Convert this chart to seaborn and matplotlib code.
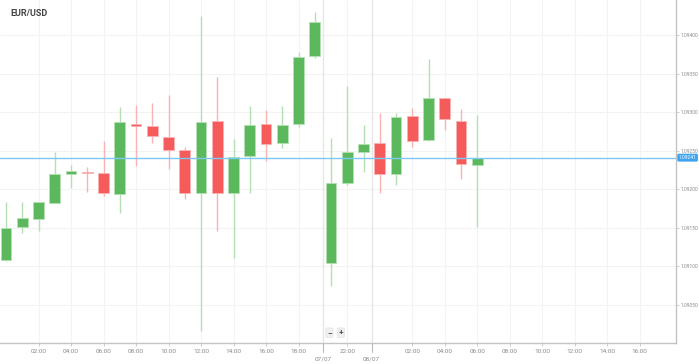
import numpy as np
import pandas as pd
import seaborn as sns
import matplotlib
matplotlib.use("Agg")
import matplotlib.pyplot as plt

sns.set_theme(style="white")
plt.rcParams["font.family"] = ["Roboto", "DejaVu Sans"]

# hourly EUR/USD candles
opens = [1.09108, 1.09151, 1.09162, 1.09182, 1.09220, 1.09222, 1.09221, 1.09194,
         1.09285, 1.09282, 1.09268, 1.09251, 1.09195, 1.09289, 1.09195, 1.09243,
         1.09285, 1.09260, 1.09285, 1.09373, 1.09104, 1.09208, 1.09248, 1.09260,
         1.09220, 1.09295, 1.09264, 1.09318, 1.09289, 1.09232]
highs = [1.09184, 1.09184, 1.09184, 1.09248, 1.09232, 1.09229, 1.09263, 1.09307,
         1.09309, 1.09312, 1.09322, 1.09255, 1.09425, 1.09346, 1.09265, 1.09308,
         1.09303, 1.09308, 1.09378, 1.09430, 1.09267, 1.09334, 1.09283, 1.09299,
         1.09299, 1.09305, 1.09369, 1.09318, 1.09304, 1.09296]
lows = [1.09107, 1.09143, 1.09146, 1.09182, 1.09202, 1.09197, 1.09191, 1.09169,
        1.09230, 1.09260, 1.09226, 1.09187, 1.09016, 1.09146, 1.09111, 1.09195,
        1.09237, 1.09254, 1.09281, 1.09370, 1.09075, 1.09206, 1.09222, 1.09195,
        1.09206, 1.09255, 1.09263, 1.09277, 1.09213, 1.09151]
closes = [1.09150, 1.09163, 1.09183, 1.09220, 1.09224, 1.09221, 1.09195, 1.09287,
          1.09282, 1.09269, 1.09251, 1.09195, 1.09287, 1.09195, 1.09242, 1.09283,
          1.09259, 1.09283, 1.09372, 1.09417, 1.09208, 1.09248, 1.09259, 1.09220,
          1.09294, 1.09263, 1.09318, 1.09291, 1.09233, 1.09241]

last_price = 1.09241
y_ticks = [1.09050, 1.09100, 1.09150, 1.09200, 1.09250, 1.09300, 1.09350, 1.09400]

time_tick_pos = [2, 4, 6, 8, 10, 12, 14, 16, 18, 21, 25, 27, 29, 31, 33, 35, 37, 39]
time_tick_labels = ["02:00", "04:00", "06:00", "08:00", "10:00", "12:00", "14:00",
                    "16:00", "18:00", "22:00", "02:00", "04:00", "06:00", "08:00",
                    "10:00", "12:00", "14:00", "16:00"]
day_tick_pos = [19.5, 22.5]
day_tick_labels = ["07/07", "08/07"]

df = pd.DataFrame({"open": opens, "high": highs, "low": lows, "close": closes})
df["x"] = np.arange(len(df))
df["up"] = df["close"] >= df["open"]

GREEN = "#5cb85c"
RED = "#f55b5b"
GREEN_W = "#b5e0b5"
RED_W = "#f9b3b3"

fig = plt.figure(figsize=(6.99, 3.64), dpi=100)
ax = fig.add_axes([0, 21 / 364, 676 / 699, 343 / 364])

# grid
for y in y_ticks:
    ax.axhline(y, color="#f3f3f3", lw=0.8, zorder=0)
for x in time_tick_pos:
    ax.axvline(x, color="#f3f3f3", lw=0.8, zorder=0)
for x in day_tick_pos:
    ax.axvline(x, color="#e6e6e6", lw=1.0, zorder=0)

# wicks and bodies
for _, r in df.iterrows():
    wc = GREEN_W if r["up"] else RED_W
    bc = GREEN if r["up"] else RED
    ax.vlines(r["x"], r["low"], r["high"], color=wc, lw=1.0, zorder=1)
    lo = min(r["open"], r["close"])
    h = max(abs(r["close"] - r["open"]), 0.000012)
    ax.bar(r["x"], h, bottom=lo, width=0.66, color=bc, edgecolor=wc,
           linewidth=0.6, zorder=2)

ax.axhline(last_price, color="#7cc8f2", lw=1.0, zorder=3)

ax.set_xlim(-0.37, 41.23)
ax.set_ylim(1.090007, 1.094454)

for s in ["left", "top"]:
    ax.spines[s].set_visible(False)
ax.spines["right"].set_color("#c4c4c4")
ax.spines["bottom"].set_color("#c4c4c4")
ax.spines["right"].set_linewidth(1.0)
ax.spines["bottom"].set_linewidth(1.0)

ax.yaxis.tick_right()
ax.set_yticks(y_ticks)
ax.set_yticklabels([f"{v:.5f}" for v in y_ticks])
ax.tick_params(axis="y", right=True, length=2, width=0.6, color="#c4c4c4",
               labelsize=3.5, labelcolor="#8a8a8a", pad=1)

ax.set_xticks(time_tick_pos)
ax.set_xticklabels(time_tick_labels)
ax.tick_params(axis="x", bottom=True, length=2, width=0.6, color="#c4c4c4",
               labelsize=4.6, labelcolor="#8a8a8a", pad=2)
for x, lab in zip(day_tick_pos, day_tick_labels):
    ax.plot([x, x], [0, -0.025], transform=ax.get_xaxis_transform(),
            color="#bbbbbb", lw=0.8, clip_on=False)
    ax.text(x, -0.038, lab, transform=ax.get_xaxis_transform(), ha="center",
            va="top", fontsize=4.6, color="#8a8a8a")

# current price label
ax.text(1.004, last_price, f"{last_price:.5f}", transform=ax.get_yaxis_transform(),
        ha="left", va="center", fontsize=3.5, color="white",
        bbox=dict(boxstyle="round,pad=0.3", fc="#3da5f0", ec="none"))

ax.text(0.015, 0.962, "EUR/USD", transform=ax.transAxes, fontsize=6.5,
        fontweight="bold", color="#444444", ha="left", va="center")

# zoom buttons
for x, sym in [(19.9, "\u2212"), (20.6, "+")]:
    ax.text(x, 0.03, sym, transform=ax.get_xaxis_transform(), ha="center",
            va="center", fontsize=6, fontweight="bold", color="#555555",
            bbox=dict(boxstyle="round,pad=0.15", fc="#f0f0f0", ec="#e0e0e0", lw=0.5))

fig.savefig("out.png", dpi=100, facecolor="white")
